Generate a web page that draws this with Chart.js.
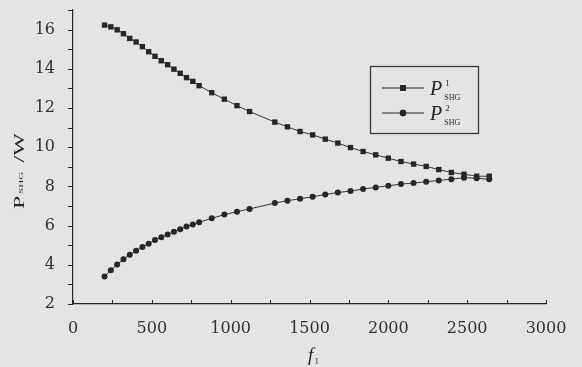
<!DOCTYPE html>
<html><head><meta charset="utf-8">
<script src="https://cdn.jsdelivr.net/npm/chart.js@4"></script>
<style>html,body{margin:0;padding:0;background:#e4e4e2;}canvas{display:block}</style>
</head><body>
<canvas id="c" width="582" height="367"></canvas>
<script>
const frequencies = [200,240,280,320,360,400,440,480,520,560,600,640,680,720,760,800,
  880,960,1040,1120,1280,1360,1440,1520,1600,1680,1760,1840,1920,2000,2080,2160,2240,2320,2400,2480,2560,2640];
const pSHG1 = [16.23,16.14,15.99,15.79,15.55,15.37,15.13,14.87,14.64,14.41,14.21,13.98,13.77,13.55,13.36,13.14,
  12.78,12.45,12.12,11.82,11.28,11.04,10.80,10.63,10.41,10.21,9.98,9.78,9.61,9.44,9.27,9.14,9.02,8.86,8.71,8.62,8.52,8.52];
const pSHG2 = [3.40,3.72,4.01,4.28,4.51,4.72,4.91,5.08,5.27,5.40,5.54,5.69,5.81,5.95,6.05,6.17,
  6.37,6.56,6.71,6.85,7.15,7.27,7.37,7.47,7.59,7.69,7.76,7.87,7.95,8.03,8.12,8.17,8.24,8.30,8.37,8.44,8.42,8.36];
const xTickValues = [0,500,1000,1500,2000,2500,3000];
const yTickValues = [2,4,6,8,10,12,14,16];
const seriesSuperscripts = ['1','2'];
const seriesStyles = ['rect','circle'];

const BG = '#e4e4e2', INK = '#262626';
const SERIF = '"Liberation Serif", "DejaVu Serif", serif';
const TICKFONT = '"DejaVu Serif", "Liberation Serif", serif';

function drawRich(ctx, parts, x, y, align) {
  const ws = parts.map(p => { ctx.font = p.font; return ctx.measureText(p.t).width; });
  let total = 0;
  parts.forEach((p, i) => { if (!p.overlay) total += ws[i] + (p.dx || 0); });
  let cx = align === 'center' ? x - total / 2 : x;
  let lastStart = cx;
  parts.forEach((p, i) => {
    ctx.font = p.font;
    if (p.overlay) { ctx.fillText(p.t, lastStart + (p.dx || 0), y + (p.dy || 0)); return; }
    lastStart = cx + (p.dx || 0);
    ctx.fillText(p.t, lastStart, y + (p.dy || 0));
    cx = lastStart + ws[i];
  });
}

const decor = {
  id: 'decor',
  beforeDraw(chart) {
    const ctx = chart.ctx;
    ctx.save(); ctx.fillStyle = BG; ctx.fillRect(0, 0, chart.width, chart.height); ctx.restore();
  },
  afterDraw(chart) {
    const ctx = chart.ctx;
    const xs = chart.scales.x, ys = chart.scales.y;
    const a = chart.chartArea;
    ctx.save();
    ctx.strokeStyle = INK;
    ctx.lineWidth = 1;
    for (let v = ys.min; v <= ys.max; v += 1) {
      const py = Math.round(ys.getPixelForValue(v)) + 0.5;
      ctx.beginPath(); ctx.moveTo(a.left - 5, py); ctx.lineTo(a.left, py); ctx.stroke();
    }
    for (let v = xs.min; v <= xs.max; v += 250) {
      const px = Math.round(xs.getPixelForValue(v)) + 0.5;
      ctx.beginPath(); ctx.moveTo(px, a.bottom); ctx.lineTo(px, a.bottom - 4); ctx.stroke();
    }
    ctx.fillStyle = INK;
    ctx.textBaseline = 'alphabetic';
    // x title
    drawRich(ctx, [
      {t: 'f', font: 'italic 19px ' + SERIF},
      {t: '1', font: '9px ' + SERIF, dy: 3, dx: 1}
    ], (a.left + a.right) / 2 + 4, 361, 'center');
    // y title
    ctx.save();
    ctx.translate(23.5, (a.top + a.bottom) / 2 + 14);
    ctx.rotate(-Math.PI / 2);
    ctx.scale(1.6, 1);
    drawRich(ctx, [
      {t: 'P', font: '15px ' + SERIF},
      {t: 'SHG', font: '7px ' + SERIF, dy: -1, dx: 1},
      {t: ' /W', font: '15px ' + SERIF, dx: 2}
    ], 0, 0, 'center');
    ctx.restore();
    // legend
    const lx = a.left + 297, ly = a.top + 56;
    ctx.lineWidth = 1.3;
    ctx.strokeStyle = '#3a3a3a';
    ctx.strokeRect(lx + 0.5, ly + 0.5, 108, 67);
    chart.data.datasets.forEach((ds, i) => {
      const ry = ly + 22 + i * 25;
      ctx.strokeStyle = INK; ctx.lineWidth = 1;
      ctx.beginPath(); ctx.moveTo(lx + 12, ry); ctx.lineTo(lx + 54, ry); ctx.stroke();
      Chart.helpers.drawPoint(ctx, {pointStyle: seriesStyles[i], radius: i === 0 ? 4 : 3.2, borderWidth: 0}, lx + 33, ry);
      ctx.fillStyle = INK; ctx.fill();
      drawRich(ctx, [
        {t: 'P', font: 'italic 20px ' + SERIF},
        {t: seriesSuperscripts[i], font: '9px ' + SERIF, dy: -9, dx: 3},
        {t: 'SHG', font: '8px ' + SERIF, dy: 5, overlay: true, dx: -1}
      ], lx + 60, ry + 7, 'left');
    });
    ctx.restore();
  }
};

const mkData = ys => frequencies.map((f, i) => ({x: f, y: ys[i]}));
const noPad = s => { s.paddingTop = 0; s.paddingBottom = 0; s.paddingLeft = 0; s.paddingRight = 0; };

new Chart(document.getElementById('c'), {
  type: 'line',
  data: {
    datasets: [
      {label: 'P1', data: mkData(pSHG1), pointStyle: 'rect', pointRadius: 3.8, pointBorderWidth: 0,
       pointBackgroundColor: INK, borderColor: '#333', borderWidth: 1, tension: 0},
      {label: 'P2', data: mkData(pSHG2), pointStyle: 'circle', pointRadius: 3, pointBorderWidth: 0,
       pointBackgroundColor: INK, borderColor: '#333', borderWidth: 1, tension: 0}
    ]
  },
  options: {
    responsive: false,
    animation: false,
    devicePixelRatio: 1,
    layout: {padding: {left: 0, top: 10, right: 36, bottom: 0}},
    plugins: {legend: {display: false}, tooltip: {enabled: false}},
    scales: {
      x: {
        type: 'linear', min: 0, max: 3000,
        afterBuildTicks: s => { s.ticks = xTickValues.map(v => ({value: v})); },
        afterFit: s => { s.height = 63; noPad(s); },
        grid: {display: false, drawTicks: false},
        border: {display: true, color: INK, width: 1.2},
        ticks: {font: {family: TICKFONT, size: 16}, color: '#303030', padding: 15, maxRotation: 0,
                callback: v => String(v)}
      },
      y: {
        type: 'linear', min: 2, max: 17,
        afterBuildTicks: s => { s.ticks = yTickValues.map(v => ({value: v})); },
        afterFit: s => { s.width = 73; noPad(s); },
        grid: {display: false, drawTicks: false},
        border: {display: true, color: INK, width: 1.2},
        ticks: {font: {family: TICKFONT, size: 16}, color: '#303030', padding: 18, callback: v => String(v)}
      }
    }
  },
  plugins: [decor]
});
</script>
</body></html>
